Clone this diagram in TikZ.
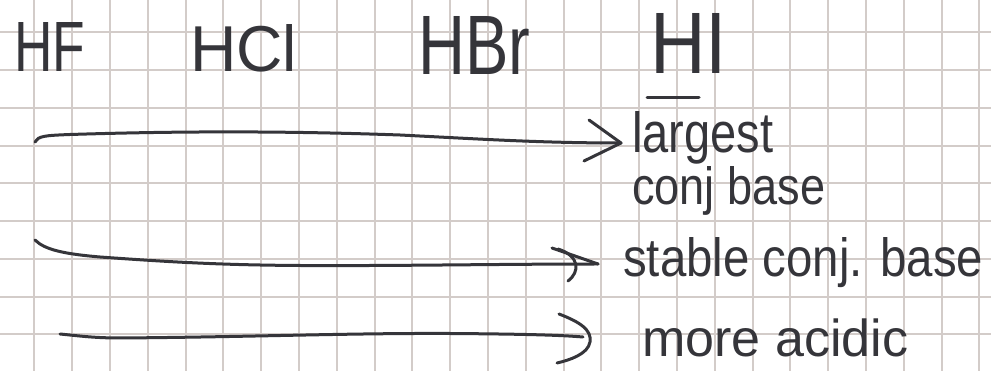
\documentclass[tikz,border=0pt]{standalone}
\usepackage{fontspec}
\setmainfont{Liberation Sans}
\definecolor{gridc}{HTML}{D3CCC9}
\definecolor{ink}{HTML}{35353A}
\begin{document}
\begin{tikzpicture}[x=1pt,y=-1pt,
  gridline/.style={draw=gridc,line width=2pt},
  pen/.style={draw=ink,line width=3pt,line cap=round,line join=round},
  lbl/.style={inner sep=0pt,anchor=base west,text=ink}]
\useasboundingbox (0,0) rectangle (991,371);
\fill[white] (0,0) rectangle (991,371);
\foreach \k in {0,...,25} \draw[gridline] ({34.3+37.8*\k},0) -- ({34.3+37.8*\k},371);
\foreach \k in {0,...,8} \draw[gridline] (0,{32.3+37.75*\k}) -- (991,{32.3+37.75*\k});
% formulas
\node[lbl] (hf) at (14,72) {\resizebox{71pt}{49pt}{HF}};
\node[lbl] (hcl) at (190,72) {\resizebox{107pt}{47pt}{HCl}};
\node[lbl] (hbr) at (418,75) {\resizebox{112pt}{58pt}{HBr}};
\node[lbl] (hi) at (650,74) {\resizebox{77pt}{60pt}{HI}};
\coordinate (ula) at (647,98);
\coordinate (ulb) at (699,98);
\draw[pen] (ula) -- (ulb);
% labels
\node[lbl] (l1) at (632,153) {\resizebox{141pt}{41pt}{largest}};
\node[lbl] (l2) at (632,205) {\resizebox{193pt}{38pt}{conj base}};
\node[lbl] (l3) at (623,277) {\resizebox{360pt}{39pt}{stable conj. base}};
\node[lbl] (l4) at (642,357) {\resizebox{266pt}{!}{more acidic}};
% arrow 1
\coordinate (a1s) at (35,142);
\coordinate (a1t) at (621,143);
\draw[pen] (a1s) .. controls (38,136) and (45,135.5) .. (70,134.5)
  .. controls (150,132) and (260,130) .. (400,135)
  .. controls (480,139) and (540,143) .. (a1t);
\draw[pen] (589,120) -- (a1t) -- (584,161);
% arrow 2
\coordinate (a2s) at (35,240);
\coordinate (a2t) at (598,264);
\draw[pen] (a2s) .. controls (45,250) and (65,254) .. (100,257)
  .. controls (170,262) and (220,265) .. (300,265.5)
  .. controls (400,266) and (500,264) .. (a2t);
\draw[pen] (552,248) -- (a2t);
\draw[pen] (558,249) .. controls (580,256) and (580,272) .. (568,281);
% arrow 3
\coordinate (a3s) at (60,334);
\coordinate (a3t) at (583,337);
\draw[pen] (a3s) .. controls (80,336) and (95,338) .. (120,338)
  .. controls (250,337) and (350,333) .. (450,333.5)
  .. controls (520,334) and (560,335) .. (a3t);
\draw[pen] (559,314) .. controls (580,322) and (592,330) .. (590,342)
  .. controls (588,354) and (570,360) .. (557,363);
\end{tikzpicture}
\end{document}
